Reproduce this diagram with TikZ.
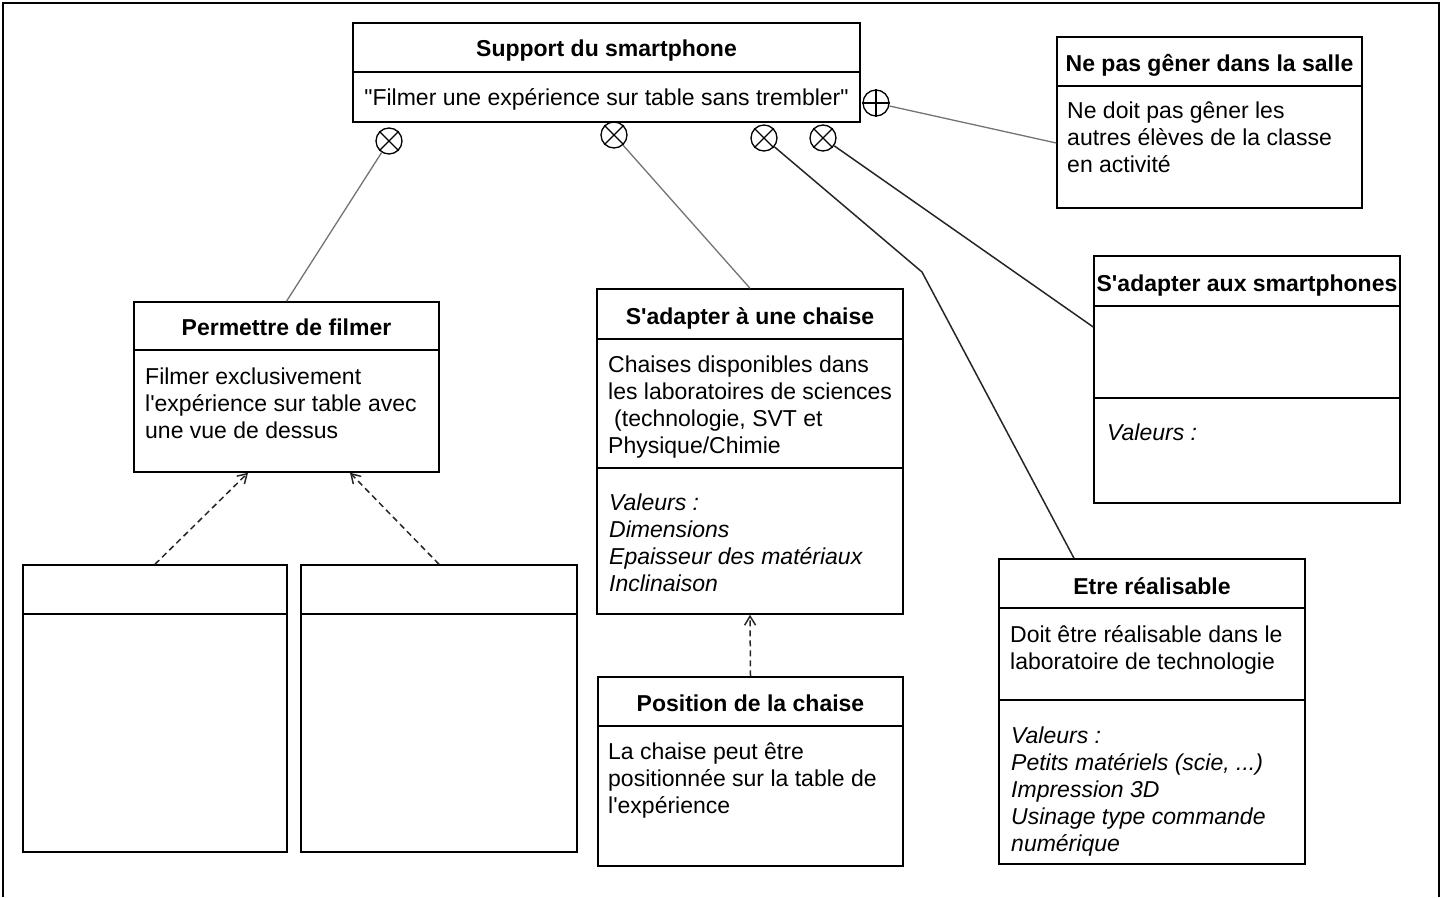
\documentclass[tikz,border=0pt]{standalone}
\usepackage{fontspec}
\setmainfont{Liberation Sans}[Ligatures=TeXOff]
\usetikzlibrary{arrows.meta,calc}
\tikzset{
 box/.style={draw, line width=1.5pt, inner sep=0pt},
 ttl/.style={font=\bfseries\fontsize{23}{27}\selectfont, inner sep=0pt, anchor=base},
 txt/.style={font=\fontsize{23}{27}\selectfont, align=left, anchor=base west, inner sep=0pt},
 itxt/.style={txt, font=\itshape\fontsize{23}{27}\selectfont},
 sym/.style={circle, draw, line width=1.3pt, minimum size=26pt, inner sep=0pt},
 link/.style={draw=black!55, line width=1.3pt},
 linkd/.style={draw=black!85, line width=1.5pt},
 dep/.style={draw=black!85, dash pattern=on 6pt off 4pt, line width=1.5pt, -{Straight Barb[length=9pt,width=11pt]}},
 divline/.style={line width=1.5pt},
}
\begin{document}
\begin{tikzpicture}[x=1pt,y=-1pt]
\useasboundingbox (0,0) rectangle (1445,897);
\draw[line width=2pt] (3,897) -- (3,3) -- (1439,3) -- (1439,897);

% boxes
\node[box, minimum width=507pt, minimum height=99pt] (main) at (606.5,72.5) {};
\node[box, minimum width=305pt, minimum height=171pt] (nepas) at (1209.5,122.5) {};
\node[box, minimum width=305pt, minimum height=170pt] (perm) at (286.5,387) {};
\node[box, minimum width=264pt, minimum height=287pt] (empty1) at (155,708.5) {};
\node[box, minimum width=276pt, minimum height=287pt] (empty2) at (439,708.5) {};
\node[box, minimum width=306pt, minimum height=325pt] (chaise) at (750,451.5) {};
\node[box, minimum width=305pt, minimum height=189pt] (pos) at (750.5,771.5) {};
\node[box, minimum width=306pt, minimum height=247pt] (smart) at (1247,379.5) {};
\node[box, minimum width=306pt, minimum height=305pt] (real) at (1152,711.5) {};

% dividers
\draw[divline] (main.west |- 0,72) -- (main.east |- 0,72);
\draw[divline] (nepas.west |- 0,86) -- (nepas.east |- 0,86);
\draw[divline] (perm.west |- 0,350) -- (perm.east |- 0,350);
\draw[divline] (empty1.west |- 0,614) -- (empty1.east |- 0,614);
\draw[divline] (empty2.west |- 0,614) -- (empty2.east |- 0,614);
\draw[divline] (chaise.west |- 0,339) -- (chaise.east |- 0,339);
\draw[divline] (chaise.west |- 0,468) -- (chaise.east |- 0,468);
\draw[divline] (pos.west |- 0,726) -- (pos.east |- 0,726);
\draw[divline] (smart.west |- 0,306) -- (smart.east |- 0,306);
\draw[divline] (smart.west |- 0,398) -- (smart.east |- 0,398);
\draw[divline] (real.west |- 0,608) -- (real.east |- 0,608);
\draw[divline] (real.west |- 0,700) -- (real.east |- 0,700);

% titles
\node[ttl] (tmain) at (606.5,56) {Support du smartphone};
\node[ttl] (tnepas) at (1209.5,71) {Ne pas gêner dans la salle};
\node[ttl] (tperm) at (286.5,335) {Permettre de filmer};
\node[ttl] (tchaise) at (750,324) {S'adapter à une chaise};
\node[ttl] (tpos) at (750.5,711) {Position de la chaise};
\node[ttl] (tsmart) at (1247,291) {S'adapter aux smartphones};
\node[ttl] (treal) at (1152,594) {Etre réalisable};

% texts (base anchor = baseline of the last line)
\node[txt, anchor=base] (bmain) at (606.5,105) {"Filmer une expérience sur table sans trembler"};
\node[txt] (bnepas) at (1067,172) {Ne doit pas gêner les\\autres élèves de la classe\\en activité};
\node[txt] (bperm) at (145,438) {Filmer exclusivement\\l'expérience sur table avec\\une vue de dessus};
\node[txt] (bchaise) at (608,453) {Chaises disponibles dans\\les laboratoires de sciences\\\hspace*{6pt}(technologie, SVT et\\Physique/Chimie};
\node[itxt] (vchaise) at (609,591) {Valeurs :\\Dimensions\\Epaisseur des matériaux\\Inclinaison};
\node[txt] (bpos) at (608,813) {La chaise peut être\\positionnée sur la table de\\l'expérience};
\node[itxt] (vsmart) at (1107,440) {Valeurs :};
\node[txt] (breal) at (1010,669) {Doit être réalisable dans le\\laboratoire de technologie};
\node[itxt] (vreal) at (1011,851) {Valeurs :\\Petits matériels (scie, ...)\\Impression 3D\\Usinage type commande\\numérique};

% symbols
\node[sym] (c1) at (389,141) {};
\node[sym] (c2) at (614,135) {};
\node[sym] (c3) at (764,138) {};
\node[sym] (c4) at (823,138) {};
\node[sym] (c5) at (876,103) {};
\foreach \c in {c1,c2,c3,c4}{
  \draw[line width=1.3pt] (\c.north west) -- (\c.south east);
  \draw[line width=1.3pt] (\c.north east) -- (\c.south west);
}
\draw[line width=1.3pt] (c5.north) -- (c5.south);
\draw[line width=1.3pt] (c5.west) -- (c5.east);

% connectors
\coordinate (bend) at (922,272);
\draw[link] (c1) -- (perm.north);
\draw[link] (c2) -- (chaise.north);
\draw[linkd] (c3) -- (bend) -- ([xshift=-78pt]real.north);
\draw[linkd] (c4) -- ([yshift=52.5pt]smart.west);
\draw[link] (c5) -- ([yshift=-20.5pt]nepas.west);

\draw[dep] (empty1.north) -- ([xshift=-38.5pt]perm.south);
\draw[dep] (empty2.north) -- ([xshift=63.5pt]perm.south);
\draw[dep] (pos.north) -- (chaise.south);
\end{tikzpicture}
\end{document}
